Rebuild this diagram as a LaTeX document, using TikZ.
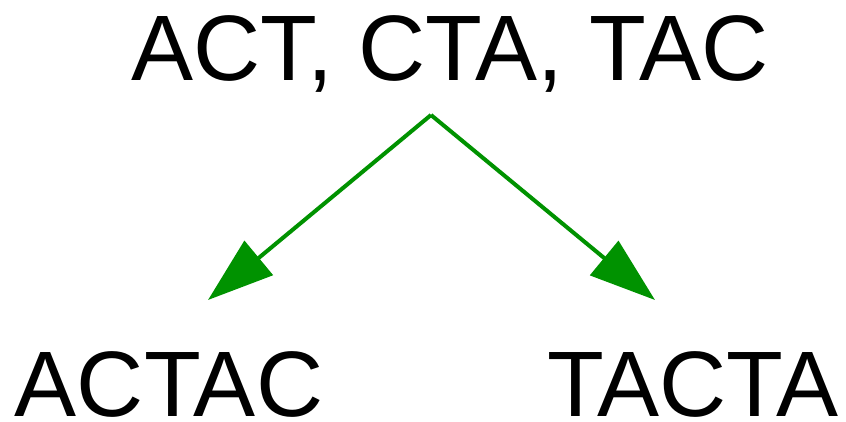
\documentclass[tikz,border=0pt]{standalone}
\usepackage{fontspec}
\setmainfont{Liberation Sans}
\usetikzlibrary{arrows.meta}
\definecolor{arrowgreen}{RGB}{0,146,0}
\tikzset{
  word/.style={inner sep=0pt, anchor=base, text depth=0pt, font=\fontsize{93}{93}\selectfont},
  link/.style={draw=arrowgreen, line width=4pt, -{Triangle[length=66pt,width=44pt,fill=arrowgreen]}}
}
\begin{document}
\begin{tikzpicture}[x=1pt,y=-1pt]
\useasboundingbox (0,0) rectangle (846,421);
\node[word] (top) at (450,80) {ACT, CTA, TAC};
\node[word] (left) at (169,416) {ACTAC};
\node[word] (right) at (693,416) {TACTA};
\coordinate (src) at (431,115);
\coordinate (ltip) at (208,300);
\coordinate (rtip) at (655,300);
\draw[link] (src) -- (ltip);
\draw[link] (src) -- (rtip);
\end{tikzpicture}
\end{document}
